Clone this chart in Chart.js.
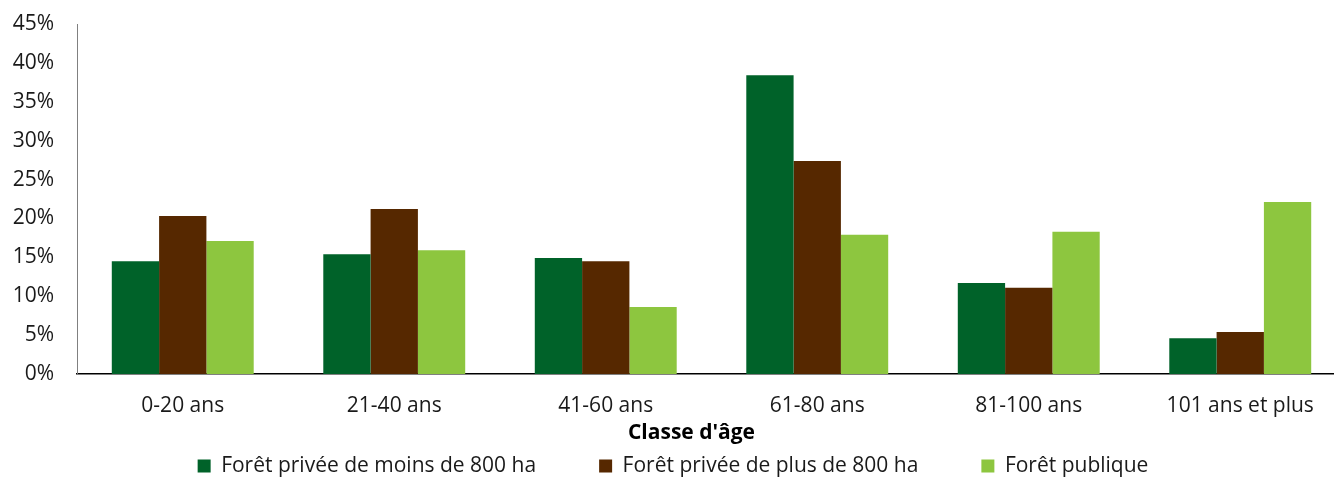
<!DOCTYPE html>
<html>
<head>
<meta charset="utf-8">
<script src="https://cdn.jsdelivr.net/npm/chart.js@4/dist/chart.umd.min.js"></script>
<style>
  html, body { margin: 0; padding: 0; background: #fff; overflow: hidden; }
  #wrap { width: 1346px; height: 479px; }
</style>
</head>
<body>
<div id="wrap"><canvas id="c" width="1346" height="479"></canvas></div>
<script>
const categories = ['0-20 ans', '21-40 ans', '41-60 ans', '61-80 ans', '81-100 ans', '101 ans et plus'];
const seriesNames = ['Forêt privée de moins de 800 ha', 'Forêt privée de plus de 800 ha', 'Forêt publique'];
const privateSmall = [14.5, 15.4, 14.9, 38.4, 11.7, 4.6];
const privateLarge = [20.3, 21.2, 14.5, 27.4, 11.1, 5.4];
const publicForest = [17.1, 15.9, 8.6, 17.9, 18.3, 22.1];
const yTicks = [0, 5, 10, 15, 20, 25, 30, 35, 40, 45];
const xTitle = "Classe d'âge";

const colors = ['#006229', '#562800', '#8dc63f'];
const FONT = "'Open Sans', 'DejaVu Sans', sans-serif";
const FS = 21;

const layoutTweaks = {
  id: 'layoutTweaks',
  afterInit(chart) {
    const lg = chart.legend;
    if (!lg) return;
    const origFit = lg.fit.bind(lg);
    lg.fit = function () { origFit(); this.height = 29; };
    const origDraw = lg.draw.bind(lg);
    lg.draw = function () {
      const t = this.top;
      this.top = t - (this.options.labels.padding - 5.5);
      origDraw();
      this.top = t;
    };
  },
  afterUpdate(chart) {
    const s = chart.scales.x;
    if (!s || s._titleWrapped) return;
    s._titleWrapped = true;
    const origTitle = s.drawTitle.bind(s);
    s.drawTitle = function () {
      const l = this.left;
      this.left = l - 40;
      origTitle();
      this.left = l;
    };
  }
};

const chart = new Chart(document.getElementById('c'), {
  type: 'bar',
  data: {
    labels: categories,
    datasets: [privateSmall, privateLarge, publicForest].map((d, i) => ({
      label: seriesNames[i],
      data: d,
      backgroundColor: colors[i],
      borderWidth: 0,
      categoryPercentage: 0.671,
      barPercentage: 1
    }))
  },
  options: {
    responsive: false,
    animation: false,
    devicePixelRatio: 1,
    layout: { padding: { top: 24, left: 0, right: 0, bottom: 0 } },
    plugins: {
      tooltip: { enabled: false },
      legend: {
        position: 'bottom',
        labels: {
          boxWidth: 13,
          boxHeight: 13,
          padding: 63,
          color: '#1a1a1a',
          font: { family: FONT, size: FS }
        }
      }
    },
    scales: {
      x: {
        grid: { display: false, drawTicks: false },
        border: { display: true, color: '#000', width: 1.5 },
        ticks: { color: '#1a1a1a', padding: 19, font: { family: FONT, size: FS } },
        title: {
          display: true,
          text: xTitle,
          color: '#000',
          padding: { top: 0, bottom: 4.5 },
          font: { family: FONT, size: FS, weight: 'bold' }
        },
        afterFit(scale) { scale.height = 76; }
      },
      y: {
        min: 0,
        max: 45,
        grid: { display: false, drawTicks: false },
        border: { display: true, color: '#808080', width: 1 },
        afterBuildTicks(scale) { scale.ticks = yTicks.map(v => ({ value: v })); },
        ticks: {
          color: '#1a1a1a',
          padding: 23,
          font: { family: FONT, size: FS },
          callback: v => v + '%'
        },
        afterFit(scale) { scale.width = 77; scale.paddingTop = 0; scale.paddingBottom = 0; }
      }
    }
  },
  plugins: [layoutTweaks]
});
</script>
</body>
</html>
